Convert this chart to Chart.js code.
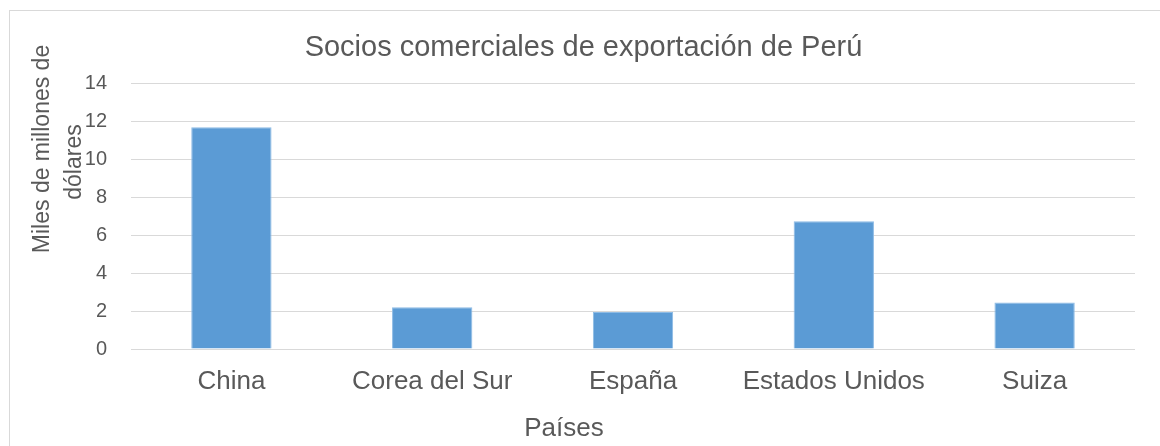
<!DOCTYPE html>
<html lang="es">
<head>
<meta charset="utf-8">
<title>Socios comerciales de exportación de Perú</title>
<script src="https://cdn.jsdelivr.net/npm/chart.js@4.4.1/dist/chart.umd.min.js"></script>
<style>
  html, body { margin: 0; padding: 0; background: #ffffff; }
  #wrap { width: 1160px; height: 446px; position: relative; }
</style>
</head>
<body>
<div id="wrap"><canvas id="socios-chart" width="1160" height="446"></canvas></div>
<script>
// Data
const countries = ['China', 'Corea del Sur', 'España', 'Estados Unidos', 'Suiza'];
const exportValues = [11.7, 2.2, 1.95, 6.75, 2.45];
const yTicks = [0, 2, 4, 6, 8, 10, 12, 14];

const COLORS = {
  bar: '#5b9bd5',
  barEdge: '#8dbbe5',
  grid: '#d9d9d9',
  text: '#595959',
  frame: '#d9d9d9'
};

const FONT = "'Liberation Sans', Arial, sans-serif";

const ctx = document.getElementById('socios-chart').getContext('2d');

new Chart(ctx, {
  type: 'bar',
  data: {
    labels: countries,
    datasets: [{
      label: 'Miles de millones de dólares',
      data: exportValues,
      backgroundColor: COLORS.bar,
      borderColor: COLORS.barEdge,
      borderWidth: 1,
      barPercentage: 0.4,
      categoryPercentage: 1.0
    }]
  },
  options: {
    responsive: false,
    animation: false,
    events: [],
    layout: {
      // left padding shifts the title centre to where the original has it
      padding: { left: 32, right: 25, top: 0, bottom: 0 }
    },
    plugins: {
      legend: { display: false },
      tooltip: { enabled: false },
      title: {
        display: true,
        text: 'Socios comerciales de exportación de Perú',
        color: COLORS.text,
        font: { family: FONT, size: 29, weight: 'normal' },
        padding: { top: 31, bottom: 18 }
      }
    },
    scales: {
      x: {
        grid: { display: false, drawTicks: false },
        border: { display: false },
        ticks: {
          color: COLORS.text,
          font: { family: FONT, size: 26 },
          padding: 17,
          maxRotation: 0
        },
        afterFit: (scale) => { scale.height = 97; }
      },
      y: {
        min: 0,
        max: 14,
        afterBuildTicks: (scale) => {
          scale.ticks = yTicks.map(v => ({ value: v }));
        },
        grid: { color: COLORS.grid, lineWidth: 1, drawTicks: false },
        border: { display: false },
        ticks: {
          color: COLORS.text,
          font: { family: FONT, size: 20 },
          padding: 24
        },
        afterFit: (scale) => { scale.width = 99; }
      }
    }
  },
  plugins: [{
    // white background and the light outer frame
    id: 'frame',
    beforeDraw: (chart) => {
      const c = chart.ctx;
      c.save();
      c.fillStyle = '#ffffff';
      c.fillRect(0, 0, chart.width, chart.height);
      c.strokeStyle = COLORS.frame;
      c.lineWidth = 1;
      c.strokeRect(9.5, 10.5, chart.width + 20, chart.height + 20);
      c.restore();
    }
  }, {
    // axis titles placed the way the spreadsheet put them
    id: 'axisTitles',
    afterDraw: (chart) => {
      const c = chart.ctx;
      c.save();
      c.fillStyle = COLORS.text;
      c.textAlign = 'center';
      c.textBaseline = 'middle';

      c.font = `26px ${FONT}`;
      c.fillText('Países', 564, 429);

      c.font = `23px ${FONT}`;
      c.translate(43, 149);
      c.rotate(-Math.PI / 2);
      c.fillText('Miles de millones de', 0, 0);
      c.restore();

      c.save();
      c.fillStyle = COLORS.text;
      c.textAlign = 'center';
      c.textBaseline = 'middle';
      c.font = `23px ${FONT}`;
      c.translate(75, 162);
      c.rotate(-Math.PI / 2);
      c.fillText('dólares', 0, 0);
      c.restore();
    }
  }]
});
</script>
</body>
</html>
